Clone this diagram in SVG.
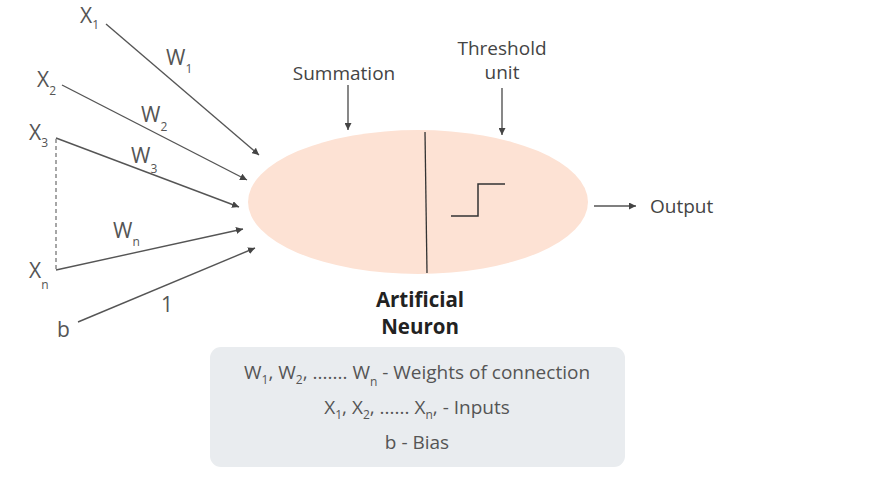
<svg xmlns="http://www.w3.org/2000/svg" width="877" height="490" viewBox="0 0 877 490">
<style>
text{font-family:"Open Sans","Liberation Sans",sans-serif;fill:#555;}
.lbl{font-size:21px;}
.sub{font-size:12px;}
.cap{font-size:19px;fill:#444;}
.bold{font-size:20.5px;font-weight:bold;fill:#222;}
.leg{font-size:19px;fill:#555;}
.ln{stroke:#555;stroke-width:1.4;fill:none;}
</style>
<defs>
<marker id="ah" viewBox="0 0 10 10" refX="10" refY="5" markerWidth="7" markerHeight="7" markerUnits="userSpaceOnUse" orient="auto"><path d="M0,0 L10,5 L0,10 z" fill="#444"/></marker>
</defs>
<rect width="877" height="490" fill="#fff"/>
<g id="neuron">
<ellipse cx="418" cy="202" rx="170" ry="72" fill="#fde2d4"/>
<line x1="425" y1="132" x2="427" y2="273" stroke="#333" stroke-width="1.3"/>
<polyline points="451,216 478,216 478,184 505,184" fill="none" stroke="#333" stroke-width="1.5"/>
<text class="bold" x="420" y="307" text-anchor="middle">Artificial</text>
<text class="bold" x="420" y="334" text-anchor="middle">Neuron</text>
</g>
<g id="inputs">
<text class="lbl" x="80" y="23">X<tspan class="sub" dy="6">1</tspan></text>
<text class="lbl" x="37" y="87">X<tspan class="sub" dy="8">2</tspan></text>
<text class="lbl" x="29" y="140">X<tspan class="sub" dy="7">3</tspan></text>
<text class="lbl" x="29" y="278">X<tspan class="sub" dy="11">n</tspan></text>
<text class="lbl" x="57" y="337">b</text>
</g>
<g id="weights">
<text class="lbl" x="166" y="65">W<tspan class="sub" dy="8">1</tspan></text>
<text class="lbl" x="141" y="122">W<tspan class="sub" dy="9">2</tspan></text>
<text class="lbl" x="131" y="163">W<tspan class="sub" dy="10">3</tspan></text>
<text class="lbl" x="113" y="238">W<tspan class="sub" dy="8">n</tspan></text>
<text class="lbl" x="161" y="312">1</text>
</g>
<g id="labels">
<text class="cap" x="344" y="80" text-anchor="middle">Summation</text>
<text class="cap" x="502" y="55" text-anchor="middle">Threshold</text>
<text class="cap" x="502" y="79" text-anchor="middle">unit</text>
<text class="cap" x="650" y="213">Output</text>
</g>
<g id="connectors">
<line class="ln" x1="106" y1="24" x2="259" y2="155" marker-end="url(#ah)"/>
<line class="ln" x1="62" y1="85" x2="247" y2="180" marker-end="url(#ah)"/>
<line class="ln" x1="56" y1="138" x2="239" y2="207" marker-end="url(#ah)"/>
<line class="ln" x1="56" y1="270" x2="243" y2="229" marker-end="url(#ah)"/>
<line class="ln" x1="78" y1="322" x2="255" y2="248" marker-end="url(#ah)"/>
<line x1="56" y1="139" x2="56" y2="270" stroke="#777" stroke-width="1.3" stroke-dasharray="4,3"/>
<line class="ln" x1="348" y1="85" x2="348" y2="130" marker-end="url(#ah)"/>
<line class="ln" x1="502" y1="88" x2="502" y2="135" marker-end="url(#ah)"/>
<line class="ln" x1="594" y1="206" x2="636" y2="206" marker-end="url(#ah)"/>
</g>
<g id="legend">
<rect x="210" y="347" width="415" height="120" rx="11" fill="#e9ecef"/>
<text class="leg" x="417" y="379" text-anchor="middle">W<tspan class="sub" dy="5">1</tspan><tspan dy="-5">, W</tspan><tspan class="sub" dy="5">2</tspan><tspan dy="-5">, ....... W</tspan><tspan class="sub" dy="7">n</tspan><tspan dy="-7"> - Weights of connection</tspan></text>
<text class="leg" x="417" y="414" text-anchor="middle">X<tspan class="sub" dy="5">1</tspan><tspan dy="-5">, X</tspan><tspan class="sub" dy="5">2</tspan><tspan dy="-5">, ...... X</tspan><tspan class="sub" dy="5">n</tspan><tspan dy="-5">, - Inputs</tspan></text>
<text class="leg" x="417" y="449" text-anchor="middle">b - Bias</text>
</g>
</svg>
